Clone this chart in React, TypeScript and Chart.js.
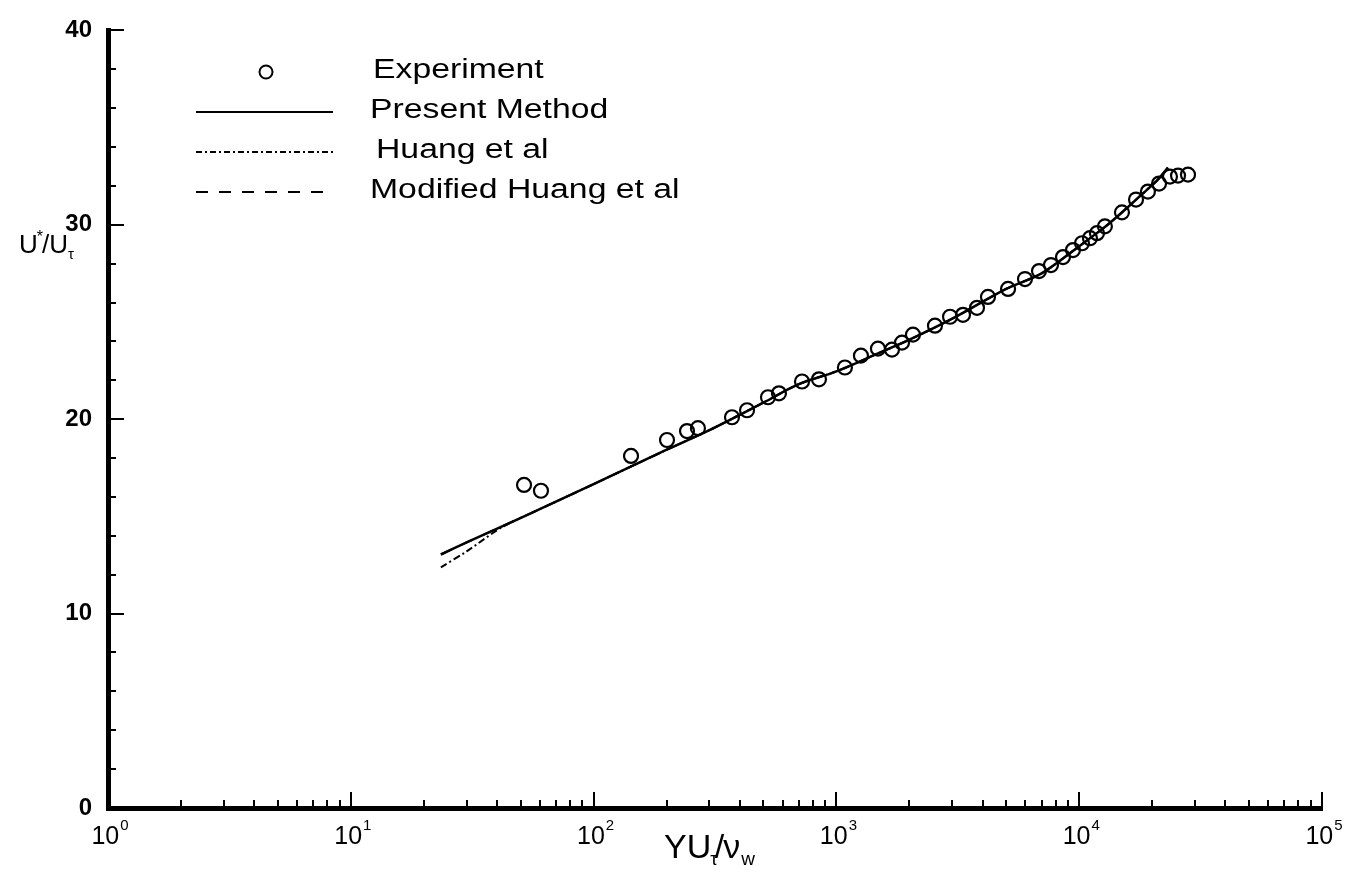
import React, { useEffect, useRef } from "react";
import { Chart, registerables } from "chart.js";

Chart.register(...registerables);

// Experiment (circles)
const EXP_X = [51.7, 60.7, 142.6, 200.6, 242.5, 269, 371.5, 428.5, 522.7, 580, 721.7, 847.6, 1084, 1262, 1483, 1694, 1863, 2067, 2547, 2938, 3322, 3794, 4210, 5093, 5980, 6830, 7653, 8576, 9428, 10270, 11075, 11835, 12760, 15000, 17140, 19190, 21320, 23650, 25530, 28060];
const EXP_Y = [16.62, 16.32, 18.11, 18.93, 19.39, 19.54, 20.1, 20.46, 21.13, 21.33, 21.94, 22.05, 22.66, 23.27, 23.63, 23.58, 23.94, 24.35, 24.81, 25.27, 25.37, 25.73, 26.29, 26.7, 27.21, 27.62, 27.93, 28.34, 28.7, 29.05, 29.31, 29.57, 29.92, 30.64, 31.3, 31.71, 32.12, 32.48, 32.53, 32.58];

// Present Method (solid)
const PRESENT_X = [23.5, 30, 42, 60, 100, 200, 300, 500, 700, 1000, 1500, 2000, 3000, 5000, 7000, 10000, 13000, 16000, 19000, 21000, 23200];
const PRESENT_Y = [13.04, 13.66, 14.49, 15.37, 16.66, 18.43, 19.44, 20.85, 21.8, 22.46, 23.41, 24.09, 25.17, 26.7, 27.5, 28.9, 29.97, 30.95, 31.8, 32.3, 32.94];

// Huang et al (dash-dot)
const HUANG_X = [23.5, 30, 42, 60, 100, 200, 300, 500, 700, 1000, 1500, 2000, 3000, 5000, 7000, 10000, 13000, 16000, 19000, 21000, 23200];
const HUANG_Y = [12.38, 13.2, 14.45, 15.37, 16.66, 18.43, 19.44, 20.85, 21.8, 22.46, 23.41, 24.09, 25.17, 26.7, 27.5, 28.9, 29.97, 30.95, 31.8, 32.3, 32.94];

// Modified Huang et al (dashed)
const MOD_X = [23.5, 30, 42, 60, 100, 200, 300, 500, 700, 1000, 1500, 2000, 3000, 5000, 7000, 10000, 13000, 16000, 19000, 21000, 23200];
const MOD_Y = [13.04, 13.66, 14.49, 15.37, 16.66, 18.43, 19.44, 20.85, 21.8, 22.46, 23.41, 24.09, 25.17, 26.7, 27.5, 28.9, 29.97, 30.95, 31.8, 32.3, 32.94];

const X_DECADES = [1, 10, 100, 1000, 10000, 100000];
const X_EXPONENTS = ["0", "1", "2", "3", "4", "5"];
const Y_MAJOR = [0, 10, 20, 30, 40];
const Y_MINOR_STEP = 2;

const LEGEND_LABELS = ["Experiment", "Present Method", "Huang et al", "Modified Huang et al"];

const FONT = '"Liberation Sans", Arial, Helvetica, sans-serif';

const toPts = (xs: number[], ys: number[]) => xs.map((x, i) => ({ x, y: ys[i] }));

function drawScaledText(ctx: CanvasRenderingContext2D, text: string, x: number, y: number, font: string, sx: number) {
  ctx.save();
  ctx.font = font;
  ctx.translate(x, y);
  ctx.scale(sx, 1);
  ctx.fillText(text, 0, 0);
  ctx.restore();
}

const decorPlugin = {
  id: "decor",
  afterDraw(chart: any) {
    const { ctx, chartArea } = chart;
    const xs = chart.scales.x;
    const ys = chart.scales.y;
    ctx.save();
    ctx.strokeStyle = "#000";
    ctx.fillStyle = "#000";
    ctx.lineCap = "butt";

    // y ticks (inside)
    ctx.lineWidth = 2;
    const yMin = Y_MAJOR[0];
    const yMax = Y_MAJOR[Y_MAJOR.length - 1];
    for (let v = yMin; v <= yMax; v += Y_MINOR_STEP) {
      const py = Math.round(ys.getPixelForValue(v));
      const major = Y_MAJOR.includes(v);
      const len = major ? 16 : 8;
      ctx.beginPath();
      ctx.moveTo(chartArea.left, py);
      ctx.lineTo(chartArea.left + len, py);
      ctx.stroke();
    }

    // x ticks (inside)
    for (let d = 0; d < X_DECADES.length; d++) {
      const base = X_DECADES[d];
      for (let m = 1; m <= 9; m++) {
        if (d === X_DECADES.length - 1 && m > 1) break;
        const v = base * m;
        const px = Math.round(xs.getPixelForValue(v));
        const len = m === 1 ? 16 : 8;
        ctx.beginPath();
        ctx.moveTo(px, chartArea.bottom);
        ctx.lineTo(px, chartArea.bottom - len);
        ctx.stroke();
      }
    }

    // x tick labels with superscripts
    ctx.textBaseline = "alphabetic";
    for (let i = 0; i < X_DECADES.length; i++) {
      const px = xs.getPixelForValue(X_DECADES[i]);
      ctx.font = `25px ${FONT}`;
      const wBase = ctx.measureText("10").width;
      ctx.font = `15px ${FONT}`;
      const wExp = ctx.measureText(X_EXPONENTS[i]).width;
      const total = wBase + wExp + 1;
      const x0 = px - total / 2 + 2;
      ctx.font = `25px ${FONT}`;
      ctx.fillText("10", x0, 844);
      ctx.font = `15px ${FONT}`;
      ctx.fillText(X_EXPONENTS[i], x0 + wBase + 1, 830);
    }

    // y axis title: U*/U_tau
    {
      let x = 19;
      const base = 253;
      ctx.font = `26px ${FONT}`;
      ctx.fillText("U", x, base);
      x += ctx.measureText("U").width;
      ctx.font = `16px ${FONT}`;
      ctx.fillText("*", x - 1, base - 11);
      x += ctx.measureText("*").width - 2;
      ctx.font = `26px ${FONT}`;
      ctx.fillText("/U", x, base);
      x += ctx.measureText("/U").width;
      ctx.font = `15px ${FONT}`;
      ctx.fillText("τ", x, base + 6);
    }

    // x axis title: Y U_tau / nu_w
    {
      let x = 664;
      const base = 858;
      ctx.font = `34px ${FONT}`;
      ctx.fillText("YU", x, base);
      x += ctx.measureText("YU").width - 1;
      ctx.font = `19px ${FONT}`;
      ctx.fillText("τ", x, base + 7);
      x += ctx.measureText("τ").width - 3;
      ctx.font = `34px ${FONT}`;
      ctx.fillText("/", x, base);
      x += ctx.measureText("/").width - 1;
      ctx.fillText("ν", x, base);
      x += ctx.measureText("ν").width + 1;
      ctx.font = `19px ${FONT}`;
      ctx.fillText("w", x, base + 7);
    }

    // Legend
    const rows = [72, 112, 152, 192];
    const lx0 = 196;
    const lx1 = 333;
    ctx.lineWidth = 2;
    ctx.beginPath();
    ctx.arc(266, rows[0], 6.5, 0, Math.PI * 2);
    ctx.stroke();
    ctx.setLineDash([]);
    ctx.beginPath();
    ctx.moveTo(lx0, rows[1]);
    ctx.lineTo(lx1, rows[1]);
    ctx.stroke();
    ctx.setLineDash([6, 3, 2, 3]);
    ctx.beginPath();
    ctx.moveTo(lx0, rows[2]);
    ctx.lineTo(lx1, rows[2]);
    ctx.stroke();
    ctx.setLineDash([12, 11]);
    ctx.beginPath();
    ctx.moveTo(lx0, rows[3]);
    ctx.lineTo(lx1, rows[3]);
    ctx.stroke();
    ctx.setLineDash([]);

    ctx.textBaseline = "middle";
    const textX = [373, 370, 376, 370];
    for (let i = 0; i < LEGEND_LABELS.length; i++) {
      drawScaledText(ctx, LEGEND_LABELS[i], textX[i], rows[i] - 1, `27px ${FONT}`, 1.25);
    }
    ctx.restore();
  },
};

export default function App() {
  const canvasRef = useRef<HTMLCanvasElement | null>(null);

  useEffect(() => {
    const canvas = canvasRef.current;
    if (!canvas) return;
    const chart = new Chart(canvas, {
      type: "scatter",
      data: {
        datasets: [
          {
            label: "Huang et al",
            data: toPts(HUANG_X, HUANG_Y),
            showLine: true,
            borderColor: "#000",
            borderWidth: 2,
            borderDash: [7, 3, 2, 3],
            pointRadius: 0,
            fill: false,
            tension: 0.3,
            order: 3,
          },
          {
            label: "Modified Huang et al",
            data: toPts(MOD_X, MOD_Y),
            showLine: true,
            borderColor: "#000",
            borderWidth: 2,
            borderDash: [12, 11],
            pointRadius: 0,
            fill: false,
            tension: 0.3,
            order: 2,
          },
          {
            label: "Present Method",
            data: toPts(PRESENT_X, PRESENT_Y),
            showLine: true,
            borderColor: "#000",
            borderWidth: 2.5,
            pointRadius: 0,
            fill: false,
            tension: 0.3,
            order: 1,
          },
          {
            label: "Experiment",
            data: toPts(EXP_X, EXP_Y),
            showLine: false,
            pointStyle: "circle",
            pointRadius: 7,
            pointBorderWidth: 2.2,
            pointBorderColor: "#000",
            pointBackgroundColor: "rgba(0,0,0,0)",
            order: 0,
          },
        ],
      },
      options: {
        responsive: false,
        animation: false,
        devicePixelRatio: 1,
        layout: { padding: { left: 8, right: 23, top: 26, bottom: 0 } },
        plugins: {
          legend: { display: false },
          tooltip: { enabled: false },
        },
        scales: {
          x: {
            type: "logarithmic",
            position: "bottom",
            min: X_DECADES[0],
            max: X_DECADES[X_DECADES.length - 1],
            grid: { display: false, drawTicks: false },
            border: { display: true, width: 5, color: "#000" },
            ticks: { display: false },
            afterBuildTicks: (scale: any) => {
              scale.ticks = X_DECADES.map((v) => ({ value: v }));
            },
            afterFit: (scale: any) => {
              scale.height = 64;
            },
          },
          y: {
            type: "linear",
            min: Y_MAJOR[0],
            max: Y_MAJOR[Y_MAJOR.length - 1],
            grid: { display: false, drawTicks: false },
            border: { display: true, width: 5, color: "#000" },
            ticks: {
              stepSize: 10,
              padding: 16,
              color: "#000",
              font: { family: FONT, size: 24, weight: "bold" },
            },
            afterBuildTicks: (scale: any) => {
              scale.ticks = Y_MAJOR.map((v) => ({ value: v }));
            },
            afterFit: (scale: any) => {
              scale.width = 100;
            },
          },
        },
      },
      plugins: [decorPlugin],
    });
    return () => chart.destroy();
  }, []);

  return (
    <div style={{ position: "absolute", left: 0, top: 0, width: 1345, height: 872, background: "#fff" }}>
      <canvas ref={canvasRef} width={1345} height={872} style={{ display: "block" }} />
    </div>
  );
}
